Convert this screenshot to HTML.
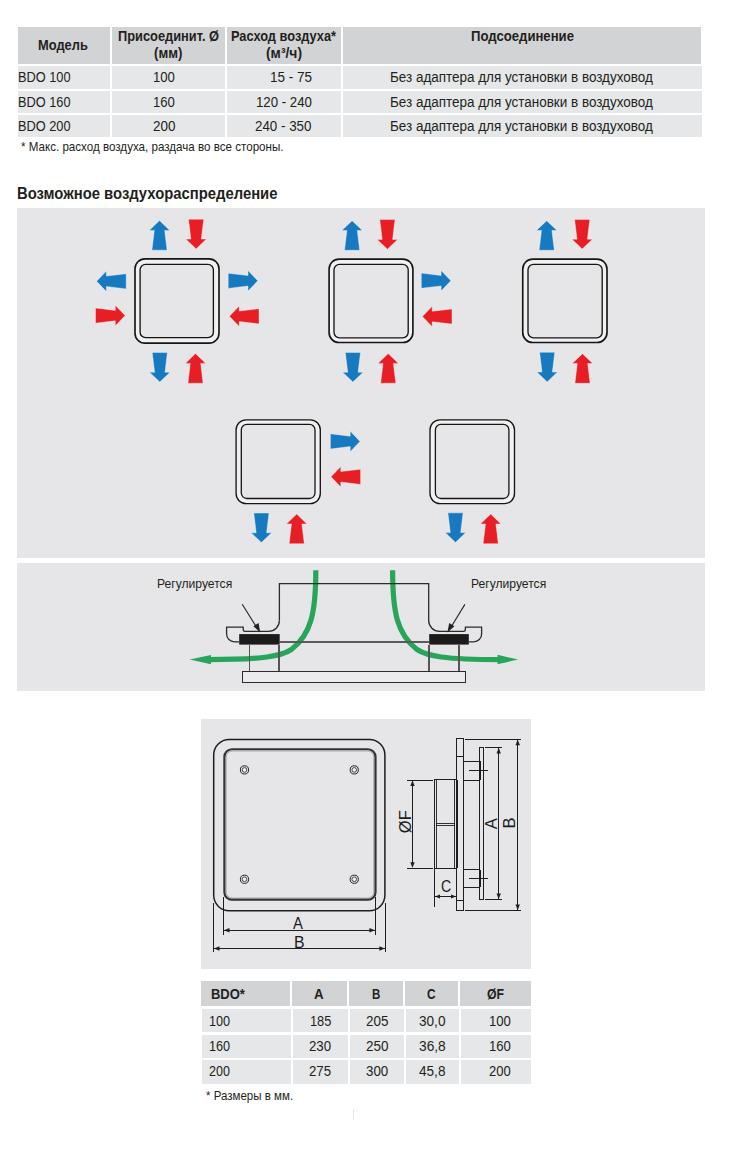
<!DOCTYPE html>
<html><head><meta charset="utf-8">
<style>
html,body{margin:0;padding:0;background:#fff;}
body{width:748px;height:1154px;position:relative;overflow:hidden;font-family:"Liberation Sans",sans-serif;color:#231f20;}
.a{position:absolute;}
.h{background:#d2d3d5;}
.d{background:#e6e7e8;}
.p{background:#e6e6e8;}
.art{background:#e6e6e6;}
.t{position:absolute;white-space:nowrap;line-height:1;transform-origin:0 0;}
.b{font-weight:bold;}
svg text{font-family:"Liberation Sans",sans-serif;}
svg line:not(.dg),svg rect.cr{shape-rendering:crispEdges;}
</style></head><body>
<div class="a h" style="left:18px;top:27px;width:92px;height:36.8px"></div>
<div class="a h" style="left:112px;top:27px;width:112.5px;height:36.8px"></div>
<div class="a h" style="left:227px;top:27px;width:114px;height:36.8px"></div>
<div class="a h" style="left:343px;top:27px;width:358px;height:36.8px"></div>
<div class="a d" style="left:18px;top:66.1px;width:92px;height:22.7px"></div>
<div class="a d" style="left:112px;top:66.1px;width:112.5px;height:22.7px"></div>
<div class="a d" style="left:227px;top:66.1px;width:114px;height:22.7px"></div>
<div class="a d" style="left:343px;top:66.1px;width:359.4px;height:22.7px"></div>
<div class="a d" style="left:18px;top:91px;width:92px;height:22px"></div>
<div class="a d" style="left:112px;top:91px;width:112.5px;height:22px"></div>
<div class="a d" style="left:227px;top:91px;width:114px;height:22px"></div>
<div class="a d" style="left:343px;top:91px;width:359.4px;height:22px"></div>
<div class="a d" style="left:18px;top:115.2px;width:92px;height:21.6px"></div>
<div class="a d" style="left:112px;top:115.2px;width:112.5px;height:21.6px"></div>
<div class="a d" style="left:227px;top:115.2px;width:114px;height:21.6px"></div>
<div class="a d" style="left:343px;top:115.2px;width:359.4px;height:21.6px"></div>
<div class="a p" style="left:17px;top:208.2px;width:688px;height:349.5px"></div>
<div class="a p" style="left:17px;top:563.2px;width:688px;height:127.5px"></div>
<div class="a p" style="left:201.3px;top:719.2px;width:329.7px;height:250.3px"></div>
<div class="a h" style="left:201.3px;top:981.2px;width:88.7px;height:24.7px"></div>
<div class="a h" style="left:292.2px;top:981.2px;width:54.8px;height:24.7px"></div>
<div class="a h" style="left:349px;top:981.2px;width:54px;height:24.7px"></div>
<div class="a h" style="left:405.2px;top:981.2px;width:53px;height:24.7px"></div>
<div class="a h" style="left:460.3px;top:981.2px;width:70.7px;height:24.7px"></div>
<div class="a d" style="left:201.5px;top:1009px;width:89.3px;height:22.8px"></div>
<div class="a d" style="left:293.1px;top:1009px;width:54.7px;height:22.8px"></div>
<div class="a d" style="left:350px;top:1009px;width:53.8px;height:22.8px"></div>
<div class="a d" style="left:406px;top:1009px;width:53px;height:22.8px"></div>
<div class="a d" style="left:461px;top:1009px;width:70px;height:22.8px"></div>
<div class="a d" style="left:201.5px;top:1034.9px;width:89.3px;height:22.9px"></div>
<div class="a d" style="left:293.1px;top:1034.9px;width:54.7px;height:22.9px"></div>
<div class="a d" style="left:350px;top:1034.9px;width:53.8px;height:22.9px"></div>
<div class="a d" style="left:406px;top:1034.9px;width:53px;height:22.9px"></div>
<div class="a d" style="left:461px;top:1034.9px;width:70px;height:22.9px"></div>
<div class="a d" style="left:201.5px;top:1060px;width:89.3px;height:23.6px"></div>
<div class="a d" style="left:293.1px;top:1060px;width:54.7px;height:23.6px"></div>
<div class="a d" style="left:350px;top:1060px;width:53.8px;height:23.6px"></div>
<div class="a d" style="left:406px;top:1060px;width:53px;height:23.6px"></div>
<div class="a d" style="left:461px;top:1060px;width:70px;height:23.6px"></div>
<div class="a art" style="left:353px;top:1109.4px;width:1px;height:10.5px"></div>
<svg class="a" style="left:0;top:0" width="748" height="1154" viewBox="0 0 748 1154">
<rect x="135.00" y="258.80" width="84.00" height="84.40" rx="10" fill="#f1f1f2" stroke="#151515" stroke-width="1.65"/>
<rect x="140.10" y="264.30" width="73.30" height="73.40" rx="5.5" fill="#e6e6e8" stroke="#151515" stroke-width="1.35"/>
<rect x="329.10" y="259.10" width="83.80" height="83.40" rx="10" fill="#f1f1f2" stroke="#151515" stroke-width="1.65"/>
<rect x="334.00" y="264.30" width="74.20" height="73.50" rx="5.5" fill="#e6e6e8" stroke="#151515" stroke-width="1.35"/>
<rect x="522.75" y="259.10" width="84.25" height="83.40" rx="10" fill="#f1f1f2" stroke="#151515" stroke-width="1.65"/>
<rect x="528.00" y="264.30" width="74.20" height="73.50" rx="5.5" fill="#e6e6e8" stroke="#151515" stroke-width="1.35"/>
<rect x="236.10" y="419.80" width="84.20" height="83.80" rx="10" fill="#f1f1f2" stroke="#151515" stroke-width="1.35"/>
<rect x="241.30" y="424.40" width="73.70" height="74.10" rx="5.5" fill="#e6e6e8" stroke="#151515" stroke-width="1.30"/>
<rect x="430.00" y="419.80" width="84.50" height="83.80" rx="10" fill="#f1f1f2" stroke="#151515" stroke-width="1.35"/>
<rect x="435.40" y="424.40" width="73.50" height="74.10" rx="5.5" fill="#e6e6e8" stroke="#151515" stroke-width="1.30"/>
<polygon points="159.50,220.60 169.80,230.40 164.70,230.40 167.10,250.20 151.90,250.20 154.30,230.40 149.20,230.40" fill="#177ac0" stroke="#fff" stroke-opacity="0.55" stroke-width="0.7"/>
<polygon points="196.10,248.90 185.80,239.10 190.90,239.10 188.50,219.30 203.70,219.30 201.30,239.10 206.40,239.10" fill="#e81e25" stroke="#fff" stroke-opacity="0.55" stroke-width="0.7"/>
<polygon points="96.60,281.30 106.40,271.00 106.40,276.10 126.20,273.70 126.20,288.90 106.40,286.50 106.40,291.60" fill="#177ac0" stroke="#fff" stroke-opacity="0.55" stroke-width="0.7"/>
<polygon points="257.80,280.80 248.00,291.10 248.00,286.00 228.20,288.40 228.20,273.20 248.00,275.60 248.00,270.50" fill="#177ac0" stroke="#fff" stroke-opacity="0.55" stroke-width="0.7"/>
<polygon points="125.10,315.60 115.30,325.90 115.30,320.80 95.50,323.20 95.50,308.00 115.30,310.40 115.30,305.30" fill="#e81e25" stroke="#fff" stroke-opacity="0.55" stroke-width="0.7"/>
<polygon points="229.40,316.30 239.20,306.00 239.20,311.10 259.00,308.70 259.00,323.90 239.20,321.50 239.20,326.60" fill="#e81e25" stroke="#fff" stroke-opacity="0.55" stroke-width="0.7"/>
<polygon points="159.80,382.00 149.50,372.20 154.60,372.20 152.20,352.40 167.40,352.40 165.00,372.20 170.10,372.20" fill="#177ac0" stroke="#fff" stroke-opacity="0.55" stroke-width="0.7"/>
<polygon points="195.50,353.60 205.80,363.40 200.70,363.40 203.10,383.20 187.90,383.20 190.30,363.40 185.20,363.40" fill="#e81e25" stroke="#fff" stroke-opacity="0.55" stroke-width="0.7"/>
<polygon points="352.10,220.70 362.40,230.50 357.30,230.50 359.70,250.30 344.50,250.30 346.90,230.50 341.80,230.50" fill="#177ac0" stroke="#fff" stroke-opacity="0.55" stroke-width="0.7"/>
<polygon points="387.40,249.20 377.10,239.40 382.20,239.40 379.80,219.60 395.00,219.60 392.60,239.40 397.70,239.40" fill="#e81e25" stroke="#fff" stroke-opacity="0.55" stroke-width="0.7"/>
<polygon points="450.90,280.70 441.10,291.00 441.10,285.90 421.30,288.30 421.30,273.10 441.10,275.50 441.10,270.40" fill="#177ac0" stroke="#fff" stroke-opacity="0.55" stroke-width="0.7"/>
<polygon points="422.40,316.50 432.20,306.20 432.20,311.30 452.00,308.90 452.00,324.10 432.20,321.70 432.20,326.80" fill="#e81e25" stroke="#fff" stroke-opacity="0.55" stroke-width="0.7"/>
<polygon points="352.90,382.00 342.60,372.20 347.70,372.20 345.30,352.40 360.50,352.40 358.10,372.20 363.20,372.20" fill="#177ac0" stroke="#fff" stroke-opacity="0.55" stroke-width="0.7"/>
<polygon points="388.20,353.60 398.50,363.40 393.40,363.40 395.80,383.20 380.60,383.20 383.00,363.40 377.90,363.40" fill="#e81e25" stroke="#fff" stroke-opacity="0.55" stroke-width="0.7"/>
<polygon points="546.70,220.70 557.00,230.50 551.90,230.50 554.30,250.30 539.10,250.30 541.50,230.50 536.40,230.50" fill="#177ac0" stroke="#fff" stroke-opacity="0.55" stroke-width="0.7"/>
<polygon points="582.20,249.00 571.90,239.20 577.00,239.20 574.60,219.40 589.80,219.40 587.40,239.20 592.50,239.20" fill="#e81e25" stroke="#fff" stroke-opacity="0.55" stroke-width="0.7"/>
<polygon points="547.20,381.90 536.90,372.10 542.00,372.10 539.60,352.30 554.80,352.30 552.40,372.10 557.50,372.10" fill="#177ac0" stroke="#fff" stroke-opacity="0.55" stroke-width="0.7"/>
<polygon points="582.50,353.70 592.80,363.50 587.70,363.50 590.10,383.30 574.90,383.30 577.30,363.50 572.20,363.50" fill="#e81e25" stroke="#fff" stroke-opacity="0.55" stroke-width="0.7"/>
<polygon points="360.00,441.40 350.20,451.70 350.20,446.60 330.40,449.00 330.40,433.80 350.20,436.20 350.20,431.10" fill="#177ac0" stroke="#fff" stroke-opacity="0.55" stroke-width="0.7"/>
<polygon points="331.00,476.80 340.80,466.50 340.80,471.60 360.60,469.20 360.60,484.40 340.80,482.00 340.80,487.10" fill="#e81e25" stroke="#fff" stroke-opacity="0.55" stroke-width="0.7"/>
<polygon points="261.40,542.60 251.10,532.80 256.20,532.80 253.80,513.00 269.00,513.00 266.60,532.80 271.70,532.80" fill="#177ac0" stroke="#fff" stroke-opacity="0.55" stroke-width="0.7"/>
<polygon points="296.70,514.10 307.00,523.90 301.90,523.90 304.30,543.70 289.10,543.70 291.50,523.90 286.40,523.90" fill="#e81e25" stroke="#fff" stroke-opacity="0.55" stroke-width="0.7"/>
<polygon points="455.50,542.40 445.20,532.60 450.30,532.60 447.90,512.80 463.10,512.80 460.70,532.60 465.80,532.60" fill="#177ac0" stroke="#fff" stroke-opacity="0.55" stroke-width="0.7"/>
<polygon points="490.70,514.10 501.00,523.90 495.90,523.90 498.30,543.70 483.10,543.70 485.50,523.90 480.40,523.90" fill="#e81e25" stroke="#fff" stroke-opacity="0.55" stroke-width="0.7"/>
<path d="M315.8,570.3 C315.8,612 311.4,634 291.4,649.5 C281.4,656 264.4,659.6 208,659.6" fill="none" stroke="#27a55a" stroke-width="5.2"/>
<polygon points="189.6,659.5 211,654.9 211,664.2" fill="#27a55a"/>
<path d="M392.6,570.3 C392.6,612 397,634 417,649.5 C427,656 444,659.6 500,659.6" fill="none" stroke="#27a55a" stroke-width="5.2"/>
<polygon points="518.2,659.5 497.5,654.8 497.5,664.3" fill="#27a55a"/>
<path d="M279.4,620.6 L279.4,583.7 L428.7,583.7 L428.7,620.6 A10.8,10.7 0 0 0 439.5,631.3 L463.8,631.3 Q465.4,631.3 465.4,629 L465.4,627.1 L481.6,627.1 L481.6,634 A7.8,7.8 0 0 1 473.8,641.8 L468.7,641.8" fill="none" stroke="#2b2b2b" stroke-width="1.3"/>
<path d="M279.4,620.6 A10.8,10.7 0 0 1 268.6,631.3 L244.8,631.3 Q243.2,631.3 243.2,629 L243.2,627.1 L226.6,627.1 L226.6,634 A7.8,7.8 0 0 0 234.4,641.8 L239.2,641.8" fill="none" stroke="#2b2b2b" stroke-width="1.3"/>
<line x1="279.7" y1="641.8" x2="429.2" y2="641.8" stroke="#5a5a5a" stroke-width="1.5"/>
<line x1="249.5" y1="644.6" x2="249.5" y2="671.5" stroke="#555" stroke-width="1.5"/>
<line x1="279.2" y1="644.6" x2="279.2" y2="671.5" stroke="#555" stroke-width="1.5"/>
<line x1="429.2" y1="644.6" x2="429.2" y2="671.5" stroke="#555" stroke-width="1.5"/>
<line x1="459.2" y1="644.6" x2="459.2" y2="671.5" stroke="#555" stroke-width="1.5"/>
<rect x="239.2" y="634.1" width="40.5" height="10.5" fill="#1d1a1a"/>
<rect x="429.2" y="634.1" width="39.6" height="10.5" fill="#1d1a1a"/>
<rect class="cr" x="242.6" y="671.5" width="223" height="10.7" fill="#ebebed" stroke="#2b2b2b" stroke-width="1.3"/>
<line class="dg" x1="242.2" y1="604.2" x2="256.5" y2="627" stroke="#222" stroke-width="1.1"/>
<polygon points="260.2,632.6 253.4,626.2 258.6,622.9" fill="#222"/>
<line class="dg" x1="464.9" y1="604.4" x2="451.1" y2="627" stroke="#222" stroke-width="1.1"/>
<polygon points="447.4,632.6 449.2,622.9 454.4,626.2" fill="#222"/>
<rect x="213.7" y="739.4" width="171.2" height="171.3" rx="15.5" fill="none" stroke="#1e1e1e" stroke-width="1.5"/>
<rect x="224.4" y="749.25" width="151.1" height="150.45" rx="7.5" fill="none" stroke="#333" stroke-width="2.2"/>
<rect x="226.2" y="751.0" width="147.5" height="147" rx="6" fill="none" stroke="#888" stroke-width="0.6"/>
<circle cx="244.50" cy="769.90" r="4.1" fill="none" stroke="#222" stroke-width="1"/>
<circle cx="244.50" cy="769.90" r="2.3" fill="#f4f4f4" stroke="#333" stroke-width="0.9"/>
<circle cx="354.25" cy="769.90" r="4.1" fill="none" stroke="#222" stroke-width="1"/>
<circle cx="354.25" cy="769.90" r="2.3" fill="#f4f4f4" stroke="#333" stroke-width="0.9"/>
<circle cx="244.50" cy="879.25" r="4.1" fill="none" stroke="#222" stroke-width="1"/>
<circle cx="244.50" cy="879.25" r="2.3" fill="#f4f4f4" stroke="#333" stroke-width="0.9"/>
<circle cx="354.25" cy="879.25" r="4.1" fill="none" stroke="#222" stroke-width="1"/>
<circle cx="354.25" cy="879.25" r="2.3" fill="#f4f4f4" stroke="#333" stroke-width="0.9"/>
<line x1="223.45" y1="897.2" x2="223.45" y2="934.5" stroke="#1e1e1e" stroke-width="1.2"/>
<line x1="375.5" y1="897.2" x2="375.5" y2="934.5" stroke="#1e1e1e" stroke-width="1.2"/>
<line x1="213.4" y1="903.2" x2="213.4" y2="951.8" stroke="#1e1e1e" stroke-width="1.2"/>
<line x1="385.4" y1="903.2" x2="385.4" y2="951.8" stroke="#1e1e1e" stroke-width="1.2"/>
<line x1="224" y1="930.3" x2="375" y2="930.3" stroke="#1e1e1e" stroke-width="1.1"/>
<line x1="214" y1="948.5" x2="385" y2="948.5" stroke="#1e1e1e" stroke-width="1.1"/>
<polygon points="223.90,930.30 229.50,928.10 229.50,932.50" fill="#1e1e1e"/>
<polygon points="375.00,930.30 369.40,928.10 369.40,932.50" fill="#1e1e1e"/>
<polygon points="213.90,948.50 219.50,946.30 219.50,950.70" fill="#1e1e1e"/>
<polygon points="384.90,948.50 379.30,946.30 379.30,950.70" fill="#1e1e1e"/>
<rect class="cr" x="456.5" y="738.2" width="6.9" height="172.3" fill="none" stroke="#1e1e1e" stroke-width="1.3"/>
<line x1="456.5" y1="756.4" x2="463.4" y2="756.4" stroke="#1e1e1e" stroke-width="1.2"/>
<line x1="456.5" y1="900.4" x2="463.4" y2="900.4" stroke="#1e1e1e" stroke-width="1.2"/>
<rect class="cr" x="479.6" y="747.4" width="4.2" height="152.1" fill="none" stroke="#1e1e1e" stroke-width="1.2"/>
<rect class="cr" x="463.4" y="761.3" width="16.2" height="19.1" fill="none" stroke="#1e1e1e" stroke-width="1.2"/>
<rect class="cr" x="463.4" y="869.6" width="16.2" height="17.8" fill="none" stroke="#1e1e1e" stroke-width="1.2"/>
<line x1="479.6" y1="761.3" x2="479.6" y2="780.4" stroke="#1e1e1e" stroke-width="2.0"/>
<line x1="479.6" y1="869.6" x2="479.6" y2="887.4" stroke="#1e1e1e" stroke-width="2.0"/>
<line x1="469.2" y1="770.5" x2="487.8" y2="770.5" stroke="#1e1e1e" stroke-width="1.2"/>
<line x1="469.2" y1="878.2" x2="487.8" y2="878.2" stroke="#1e1e1e" stroke-width="1.2"/>
<rect class="cr" x="434.4" y="779.5" width="22.4" height="88.7" fill="none" stroke="#1e1e1e" stroke-width="1.2"/>
<line x1="436.4" y1="779.5" x2="436.4" y2="867.9" stroke="#1e1e1e" stroke-width="0.9"/>
<line x1="454.6" y1="779.5" x2="454.6" y2="867.9" stroke="#1e1e1e" stroke-width="0.9"/>
<line x1="456.6" y1="779.5" x2="456.6" y2="867.9" stroke="#1e1e1e" stroke-width="2"/>
<line x1="436.4" y1="823.5" x2="455" y2="823.5" stroke="#1e1e1e" stroke-width="0.9"/>
<line x1="436.4" y1="825.6" x2="455" y2="825.6" stroke="#1e1e1e" stroke-width="0.9"/>
<line x1="407.3" y1="780.2" x2="433" y2="780.2" stroke="#1e1e1e" stroke-width="1.2"/>
<line x1="407.3" y1="868.2" x2="433" y2="868.2" stroke="#1e1e1e" stroke-width="1.2"/>
<line x1="412.5" y1="781" x2="412.5" y2="867" stroke="#1e1e1e" stroke-width="1.1"/>
<polygon points="412.50,780.40 410.30,786.00 414.70,786.00" fill="#1e1e1e"/>
<polygon points="412.50,867.80 410.30,862.20 414.70,862.20" fill="#1e1e1e"/>
<line x1="434.4" y1="867.9" x2="434.4" y2="906.5" stroke="#1e1e1e" stroke-width="1.2"/>
<line x1="435" y1="896.6" x2="456" y2="896.6" stroke="#1e1e1e" stroke-width="1.1"/>
<polygon points="435.00,896.60 440.00,894.60 440.00,898.60" fill="#1e1e1e"/>
<polygon points="456.00,896.60 451.00,894.60 451.00,898.60" fill="#1e1e1e"/>
<line x1="465.2" y1="739.2" x2="520.8" y2="739.2" stroke="#1e1e1e" stroke-width="1.2"/>
<line x1="465.2" y1="910.5" x2="520.8" y2="910.5" stroke="#1e1e1e" stroke-width="1.2"/>
<line x1="517.7" y1="740" x2="517.7" y2="910" stroke="#1e1e1e" stroke-width="1.1"/>
<polygon points="517.70,739.60 515.50,745.20 519.90,745.20" fill="#1e1e1e"/>
<polygon points="517.70,910.10 515.50,904.50 519.90,904.50" fill="#1e1e1e"/>
<line x1="485.2" y1="747.4" x2="501.7" y2="747.4" stroke="#1e1e1e" stroke-width="1.2"/>
<line x1="485.2" y1="899.5" x2="501.7" y2="899.5" stroke="#1e1e1e" stroke-width="1.2"/>
<line x1="498.7" y1="748" x2="498.7" y2="899" stroke="#1e1e1e" stroke-width="1.1"/>
<polygon points="498.70,747.80 496.50,753.40 500.90,753.40" fill="#1e1e1e"/>
<polygon points="498.70,899.10 496.50,893.50 500.90,893.50" fill="#1e1e1e"/>
<text transform="translate(411.0,821.7) rotate(-90)" text-anchor="middle" font-family="Liberation Sans" font-size="16.5" fill="#1e1e1e">ØF</text>
<text transform="translate(496.5,823.7) rotate(-90)" text-anchor="middle" font-family="Liberation Sans" font-size="16.5" fill="#1e1e1e">A</text>
<text transform="translate(515.2,823.1) rotate(-90)" text-anchor="middle" font-family="Liberation Sans" font-size="16.5" fill="#1e1e1e">B</text>
</svg>
<div class="t b" id="t_model" style="left:37.91px;top:38.00px;font-size:14.50px;color:#231f20;transform:scaleX(0.8881)">Модель</div>
<div class="t b" id="t_pris" style="left:117.81px;top:29.00px;font-size:14.50px;color:#231f20;transform:scaleX(0.8853)">Присоединит. Ø</div>
<div class="t b" id="t_mm" style="left:154.12px;top:46.00px;font-size:14.50px;color:#231f20;transform:scaleX(0.9109)">(мм)</div>
<div class="t b" id="t_rash" style="left:231.12px;top:29.00px;font-size:14.50px;color:#231f20;transform:scaleX(0.8822)">Расход воздуха*</div>
<div class="t b" id="t_m3" style="left:266.08px;top:46.00px;font-size:14.50px;color:#231f20;transform:scaleX(0.9572)">(м³/ч)</div>
<div class="t b" id="t_pods" style="left:470.79px;top:29.00px;font-size:14.50px;color:#231f20;transform:scaleX(0.9051)">Подсоединение</div>
<div class="t" id="r0_m" style="left:17.88px;top:70.00px;font-size:14.25px;color:#231f20;transform:scaleX(0.8952)">BDO 100</div>
<div class="t" id="r0_d" style="left:153.48px;top:70.00px;font-size:14.25px;color:#231f20;transform:scaleX(0.9213)">100</div>
<div class="t" id="r0_r" style="left:269.75px;top:70.00px;font-size:14.25px;color:#231f20;transform:scaleX(0.9497)">15 - 75</div>
<div class="t" id="r0_p" style="left:390.42px;top:70.00px;font-size:14.25px;color:#231f20;transform:scaleX(0.9445)">Без адаптера для установки в воздуховод</div>
<div class="t" id="r1_m" style="left:17.88px;top:95.00px;font-size:14.25px;color:#231f20;transform:scaleX(0.8952)">BDO 160</div>
<div class="t" id="r1_d" style="left:153.48px;top:95.00px;font-size:14.25px;color:#231f20;transform:scaleX(0.9213)">160</div>
<div class="t" id="r1_r" style="left:255.77px;top:95.00px;font-size:14.25px;color:#231f20;transform:scaleX(0.9294)">120 - 240</div>
<div class="t" id="r1_p" style="left:390.42px;top:95.00px;font-size:14.25px;color:#231f20;transform:scaleX(0.9445)">Без адаптера для установки в воздуховод</div>
<div class="t" id="r2_m" style="left:17.88px;top:119.00px;font-size:14.25px;color:#231f20;transform:scaleX(0.8952)">BDO 200</div>
<div class="t" id="r2_d" style="left:152.99px;top:119.00px;font-size:14.25px;color:#231f20;transform:scaleX(0.9422)">200</div>
<div class="t" id="r2_r" style="left:255.30px;top:119.00px;font-size:14.25px;color:#231f20;transform:scaleX(0.9373)">240 - 350</div>
<div class="t" id="r2_p" style="left:390.42px;top:119.00px;font-size:14.25px;color:#231f20;transform:scaleX(0.9445)">Без адаптера для установки в воздуховод</div>
<div class="t" id="foot1" style="left:21.26px;top:141.00px;font-size:12.25px;color:#231f20;transform:scaleX(0.9466)">* Макс. расход воздуха, раздача во все стороны.</div>
<div class="t b" id="head" style="left:16.97px;top:186.00px;font-size:16.00px;color:#231f20;transform:scaleX(0.9267)">Возможное воздухораспределение</div>
<div class="t" id="reg1" style="left:156.87px;top:577.00px;font-size:13.00px;color:#231f20;transform:scaleX(0.9321)">Регулируется</div>
<div class="t" id="reg2" style="left:470.67px;top:577.00px;font-size:13.00px;color:#231f20;transform:scaleX(0.9321)">Регулируется</div>
<div class="t" id="dimA" style="left:293.10px;top:915.00px;font-size:16.50px;color:#1a1a1a;transform:scaleX(0.9000)">A</div>
<div class="t" id="dimB" style="left:293.50px;top:934.00px;font-size:16.50px;color:#1a1a1a;transform:scaleX(0.9600)">B</div>
<div class="t" id="dimC" style="left:441.06px;top:878.00px;font-size:16.50px;color:#1a1a1a;transform:scaleX(0.8571)">C</div>
<div class="t b" id="l_bdo" style="left:210.67px;top:987.00px;font-size:14.00px;color:#231f20;transform:scaleX(0.9268)">BDO*</div>
<div class="t b" id="l_a" style="left:313.72px;top:987.00px;font-size:14.00px;color:#231f20;transform:scaleX(0.9514)">A</div>
<div class="t b" id="l_b" style="left:372.18px;top:987.00px;font-size:14.00px;color:#231f20;transform:scaleX(0.8235)">B</div>
<div class="t b" id="l_c" style="left:427.38px;top:987.00px;font-size:14.00px;color:#231f20;transform:scaleX(0.8432)">C</div>
<div class="t b" id="l_f" style="left:486.56px;top:987.00px;font-size:14.00px;color:#231f20;transform:scaleX(0.8784)">ØF</div>
<div class="t" id="l0_0" style="left:208.71px;top:1014.00px;font-size:14.25px;color:#231f20;transform:scaleX(0.8899)">100</div>
<div class="t" id="l0_1" style="left:309.50px;top:1014.00px;font-size:14.25px;color:#231f20;transform:scaleX(0.8989)">185</div>
<div class="t" id="l0_2" style="left:365.79px;top:1014.00px;font-size:14.25px;color:#231f20;transform:scaleX(0.9444)">205</div>
<div class="t" id="l0_3" style="left:418.52px;top:1014.00px;font-size:14.25px;color:#231f20;transform:scaleX(0.9533)">30,0</div>
<div class="t" id="l0_4" style="left:488.83px;top:1014.00px;font-size:14.25px;color:#231f20;transform:scaleX(0.9213)">100</div>
<div class="t" id="l1_0" style="left:208.71px;top:1039.00px;font-size:14.25px;color:#231f20;transform:scaleX(0.8899)">160</div>
<div class="t" id="l1_1" style="left:308.80px;top:1039.00px;font-size:14.25px;color:#231f20;transform:scaleX(0.9289)">230</div>
<div class="t" id="l1_2" style="left:365.79px;top:1039.00px;font-size:14.25px;color:#231f20;transform:scaleX(0.9444)">250</div>
<div class="t" id="l1_3" style="left:418.52px;top:1039.00px;font-size:14.25px;color:#231f20;transform:scaleX(0.9623)">36,8</div>
<div class="t" id="l1_4" style="left:488.83px;top:1039.00px;font-size:14.25px;color:#231f20;transform:scaleX(0.9213)">160</div>
<div class="t" id="l2_0" style="left:208.94px;top:1064.00px;font-size:14.25px;color:#231f20;transform:scaleX(0.8800)">200</div>
<div class="t" id="l2_1" style="left:308.80px;top:1064.00px;font-size:14.25px;color:#231f20;transform:scaleX(0.9289)">275</div>
<div class="t" id="l2_2" style="left:366.03px;top:1064.00px;font-size:14.25px;color:#231f20;transform:scaleX(0.9341)">300</div>
<div class="t" id="l2_3" style="left:418.76px;top:1064.00px;font-size:14.25px;color:#231f20;transform:scaleX(0.9533)">45,8</div>
<div class="t" id="l2_4" style="left:489.07px;top:1064.00px;font-size:14.25px;color:#231f20;transform:scaleX(0.9111)">200</div>
<div class="t" id="foot2" style="left:206.26px;top:1090.00px;font-size:12.25px;color:#231f20;transform:scaleX(0.9403)">* Размеры в мм.</div>
</body></html>
